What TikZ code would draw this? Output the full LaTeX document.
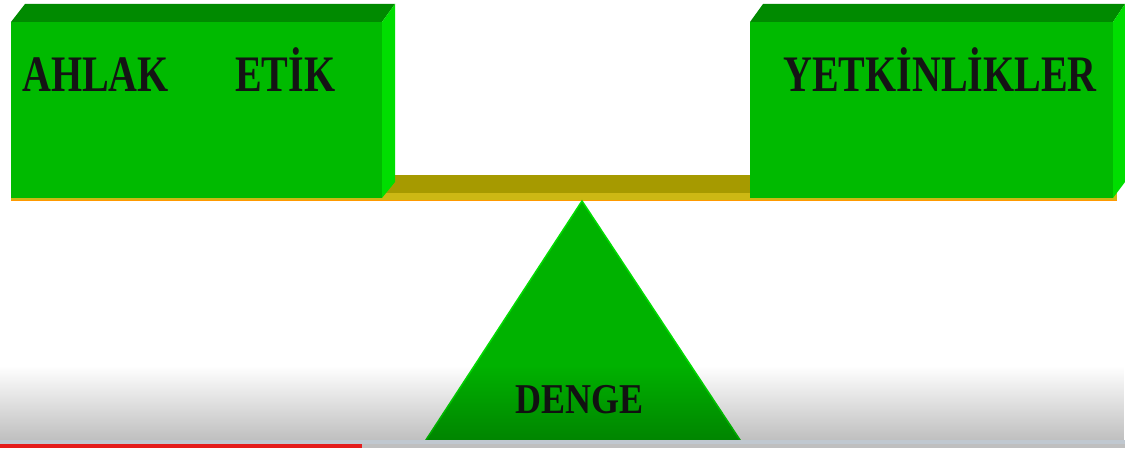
\documentclass[tikz,border=0pt]{standalone}
\usepackage{fontspec}
\setmainfont{Liberation Serif}
\usetikzlibrary{positioning,fadings}
\definecolor{FrontGreen}{RGB}{0,186,0}
\definecolor{TopGreen}{RGB}{0,138,0}
\definecolor{SideGreen}{RGB}{0,222,0}
\definecolor{BeamOlive}{RGB}{166,154,0}
\definecolor{BeamEdge}{RGB}{204,184,20}
\definecolor{PivotGreen}{RGB}{0,178,0}
\definecolor{BarRed}{RGB}{228,30,30}
\definecolor{BarGrey}{RGB}{192,200,208}
\newcommand{\stretchtxt}[1]{\scalebox{1}[1.28]{#1}}
\tikzset{
  front/.style={fill=FrontGreen},
  topface/.style={fill=TopGreen},
  sideface/.style={fill=SideGreen},
  boxtext/.style={font=\bfseries\fontsize{40}{48}\selectfont,
    inner sep=0pt,text=black!92},
  pivottext/.style={font=\bfseries\fontsize{36}{44}\selectfont,
    inner sep=0pt,text=black!92}
}

\begin{document}
\begin{tikzpicture}[x=1pt,y=1pt]
  \useasboundingbox (0,0) rectangle (1125,448);
  \fill[white] (0,0) rectangle (1125,448);
  % beam
  \fill[BeamOlive] (382,255) rectangle (750,273);
  \fill[BeamEdge] (11,247) rectangle (1117,255);
  \draw[orange!80!yellow,line width=1pt] (11,247.5) -- (1117,247.5);
  % left block
  \fill[topface] (11,426) -- (25,444) -- (395,444) -- (382,426) -- cycle;
  \fill[sideface] (382,426) -- (395,444) -- (395,266) -- (382,250) -- cycle;
  \fill[front] (11,250) rectangle (382,426);
  % right block
  \fill[topface] (750,426) -- (763,444) -- (1125,444) -- (1113,426) -- cycle;
  \fill[sideface] (1113,426) -- (1125,444) -- (1125,266) -- (1113,250) -- cycle;
  \fill[front] (750,250) rectangle (1113,426);
  % pivot
  \coordinate (apex) at (582,247);
  \filldraw[fill=PivotGreen,draw=SideGreen,line width=1.5pt]
    (apex) -- (744,2) -- (422,2) -- cycle;
  % labels
  \node[boxtext,anchor=base west] (ahlak) at (22,356) {\stretchtxt{AHLAK}};
  \node[boxtext,base right=66pt of ahlak] (etik) {\stretchtxt{ETİK}};
  \node[boxtext,anchor=base west] (yetkin) at (783,356) {\stretchtxt{YETKİNLİKLER}};
  \node[pivottext,scale=1,anchor=base west] (denge) at (515,35)
    {\scalebox{1}[1.18]{DENGE}};
  % player overlay
  \fill[black,fill opacity=0.25,path fading=north] (0,8) rectangle (1125,82);
  \fill[BarGrey] (0,4) rectangle (1125,8);
  \fill[black!25] (362,0) rectangle (1125,4);
  \fill[BarRed] (0,0) rectangle (362,4);
\end{tikzpicture}
\end{document}
